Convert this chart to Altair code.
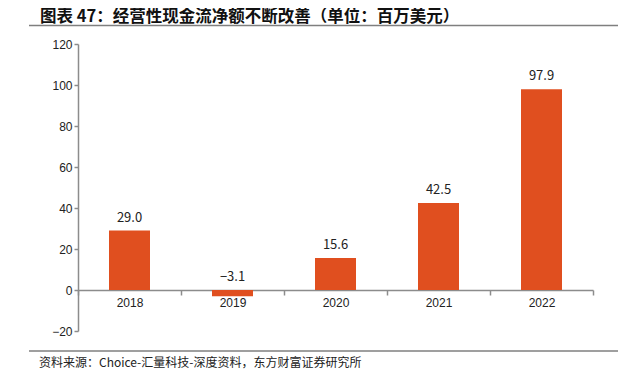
import altair as alt
import pandas as pd

years = ["2018", "2019", "2020", "2021", "2022"]
values = [29.0, -3.1, 15.6, 42.5, 97.9]

title_text = "图表 47：经营性现金流净额不断改善（单位：百万美元）"
source_text = "资料来源：Choice-汇量科技-深度资料，东方财富证券研究所"

df = pd.DataFrame({"year": years, "value": values})
df["labelY"] = df["value"].clip(lower=0)

BAR = "#E04F1F"
AXIS = "#8c8c8c"
CJK = "Noto Sans CJK SC"

xscale = alt.Scale(paddingInner=0, paddingOuter=0)
yscale = alt.Scale(domain=[-20, 120])

bars = alt.Chart(df).mark_bar(width=41, color=BAR).encode(
    x=alt.X("year:N", scale=xscale, sort=years, title=None,
            axis=alt.Axis(offset=-41, tickBand="extent", labelAngle=0,
                          domainColor=AXIS, tickColor=AXIS, tickSize=5,
                          labelPadding=2, labelFontSize=12, labelColor="#222",
                          labelFont="Liberation Sans", grid=False, domainWidth=1.5,
                          tickWidth=1.5)),
    y=alt.Y("value:Q", scale=yscale, title=None,
            axis=alt.Axis(values=[-20, 0, 20, 40, 60, 80, 100, 120], grid=False,
                          domainColor=AXIS, tickColor=AXIS, tickSize=4,
                          labelPadding=2, labelFontSize=12, labelColor="#222",
                          labelFont="Liberation Sans", domainWidth=1.5, tickWidth=1.5)),
)

labels = alt.Chart(df).mark_text(fontSize=13, font=CJK, color="#222",
                                 baseline="middle", dy=-13).encode(
    x=alt.X("year:N", sort=years),
    y=alt.Y("labelY:Q"),
    text=alt.Text("value:Q", format=".1f"),
)

one = alt.Data(values=[{}])
title = alt.Chart(one).mark_text(text=title_text, font=CJK, fontSize=16.5,
                                 fontWeight="bold", align="left", baseline="middle",
                                 color="#111").encode(
    x=alt.value(-38), y=alt.value(-27))
title_rule = alt.Chart(one).mark_rule(color="#7f7f7f", strokeWidth=1.5).encode(
    x=alt.value(-49), x2=alt.value(540), y=alt.value(-18.5))
foot_rule = alt.Chart(one).mark_rule(color="#7f7f7f", strokeWidth=1.5).encode(
    x=alt.value(-49), x2=alt.value(540), y=alt.value(307))
foot = alt.Chart(one).mark_text(text=source_text, font=CJK, fontSize=12,
                                align="left", baseline="middle", color="#222").encode(
    x=alt.value(-39), y=alt.value(319))

chart = alt.layer(bars, labels, title, title_rule, foot_rule, foot).properties(
    width=515, height=287,
    autosize=alt.AutoSizeParams(type="none"),
    padding={"left": 70, "top": 36, "right": 34, "bottom": 40},
).configure_view(stroke=None)

chart.save("out.html", embed_options={"renderer": "svg", "actions": False})
